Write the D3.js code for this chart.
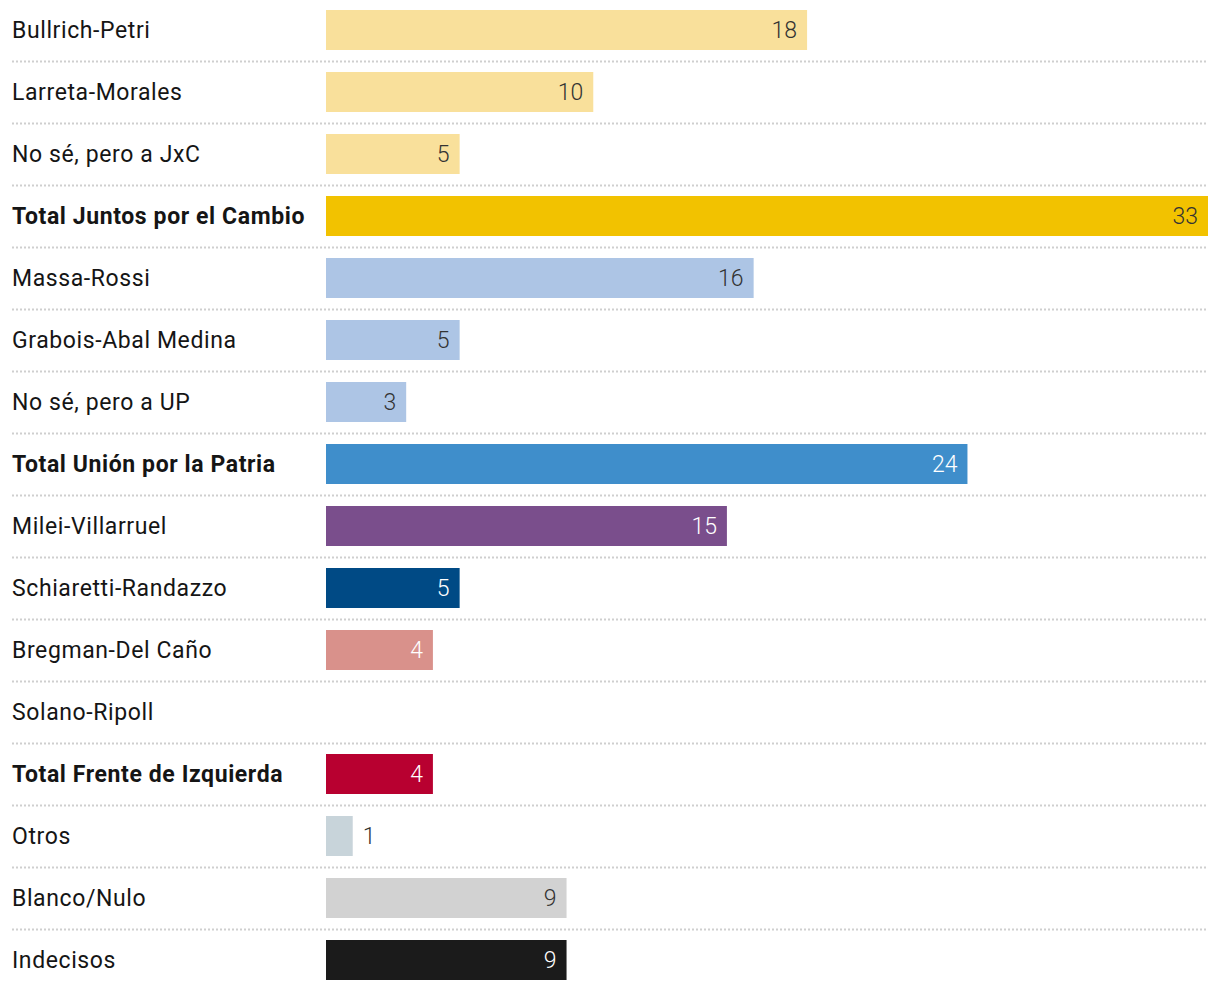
<!DOCTYPE html>
<html>
<head>
<meta charset="utf-8">
<script src="https://cdn.jsdelivr.net/npm/d3@7"></script>
<style>
  body { margin: 0; background: #fff; }
  #chart-container text { font-family: Roboto, "Noto Sans", sans-serif; }
</style>
</head>
<body>
<div id="chart-container"></div>
<script>
const categories = [
  "Bullrich-Petri", "Larreta-Morales", "No sé, pero a JxC", "Total Juntos por el Cambio",
  "Massa-Rossi", "Grabois-Abal Medina", "No sé, pero a UP", "Total Unión por la Patria",
  "Milei-Villarruel", "Schiaretti-Randazzo", "Bregman-Del Caño", "Solano-Ripoll",
  "Total Frente de Izquierda", "Otros", "Blanco/Nulo", "Indecisos"
];
const values = [18, 10, 5, 33, 16, 5, 3, 24, 15, 5, 4, null, 4, 1, 9, 9];
const isTotal = [false, false, false, true, false, false, false, true, false, false, false, false, true, false, false, false];
const barColors = [
  "#f9e09b", "#f9e09b", "#f9e09b", "#f2c200",
  "#adc5e5", "#adc5e5", "#adc5e5", "#3f8ecb",
  "#7a4e8c", "#004a85", "#d9918b", "#d9918b",
  "#b80030", "#c8d4da", "#d2d2d2", "#1b1b1b"
];
const valueColors = [
  "#333", "#333", "#333", "#333",
  "#333", "#333", "#333", "#fff",
  "#fff", "#fff", "#fff", "#fff",
  "#fff", "#333", "#333", "#fff"
];

const width = 1220, height = 990;
const rowH = 62;
const svg = d3.select("#chart-container")
  .append("svg")
  .attr("width", width)
  .attr("height", height);

const x = d3.scaleLinear().domain([0, 33]).range([326, 1208]);
const y = d3.scaleBand()
  .domain(d3.range(categories.length))
  .range([0, rowH * categories.length])
  .paddingInner(0);

const rows = svg.selectAll("g.row")
  .data(categories.map((c, i) => ({ name: c, value: values[i], i })))
  .enter()
  .append("g")
  .attr("class", "row")
  .attr("transform", (d) => `translate(0, ${y(d.i)})`);

// dotted separators between rows
rows.filter((d) => d.i < categories.length - 1)
  .append("line")
  .attr("x1", 12)
  .attr("x2", 1208)
  .attr("y1", 61.5)
  .attr("y2", 61.5)
  .style("stroke", "#cfcfcf")
  .style("stroke-width", 2)
  .style("stroke-dasharray", "2,2");

rows.append("text")
  .attr("x", 12)
  .attr("y", 30)
  .attr("dy", "0.35em")
  .style("font-size", "23px")
  .style("letter-spacing", "0.6px")
  .style("font-weight", (d) => (isTotal[d.i] ? 700 : 400))
  .style("fill", "#151515")
  .text((d) => d.name);

const withBar = rows.filter((d) => d.value != null);

withBar.append("rect")
  .attr("x", x(0))
  .attr("y", 10)
  .attr("width", (d) => x(d.value) - x(0))
  .attr("height", 40)
  .style("fill", (d) => barColors[d.i]);

withBar.append("text")
  .attr("x", (d) => (d.value < 2 ? x(d.value) + 10 : x(d.value) - 10))
  .attr("y", 30)
  .attr("dy", "0.35em")
  .attr("text-anchor", (d) => (d.value < 2 ? "start" : "end"))
  .style("font-size", "23px")
  .style("font-weight", 300)
  .style("fill", (d) => valueColors[d.i])
  .text((d) => d.value);
</script>
</body>
</html>
